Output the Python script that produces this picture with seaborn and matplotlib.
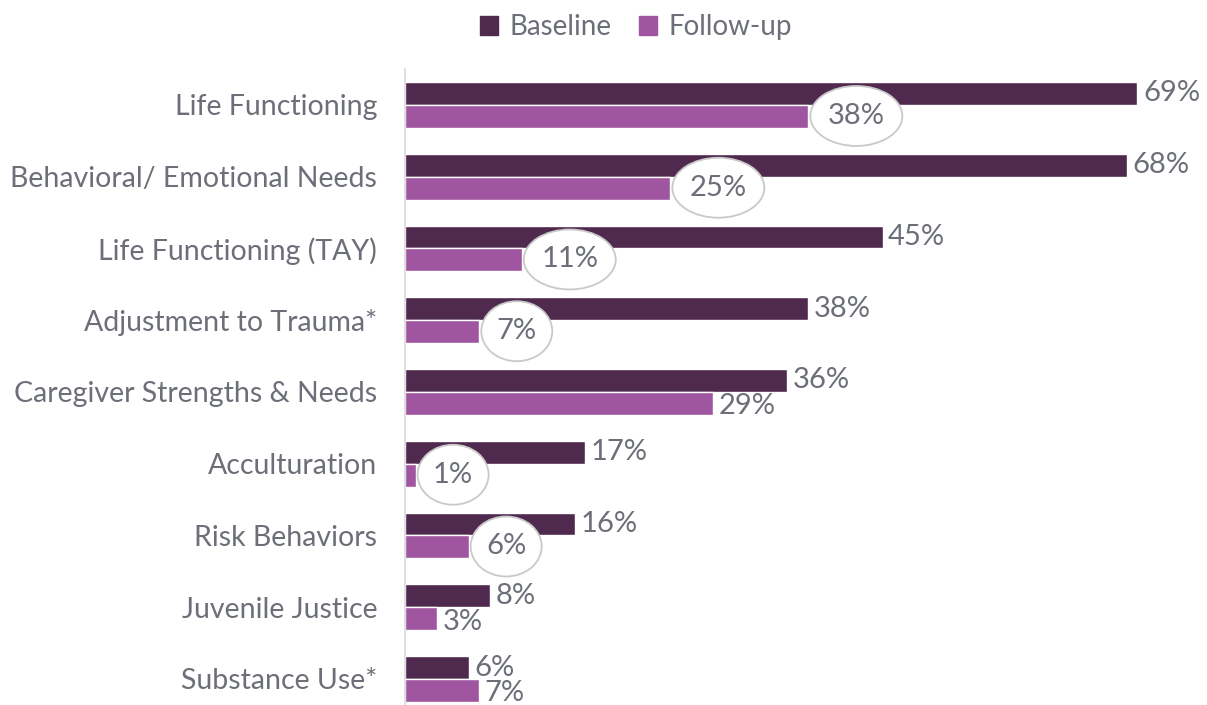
import pandas as pd
import seaborn as sns
import matplotlib.pyplot as plt
from matplotlib.patches import Patch, Ellipse

# data
categories = ["Life Functioning", "Behavioral/ Emotional Needs", "Life Functioning (TAY)",
              "Adjustment to Trauma*", "Caregiver Strengths & Needs", "Acculturation",
              "Risk Behaviors", "Juvenile Justice", "Substance Use*"]
baseline = [69, 68, 45, 38, 36, 17, 16, 8, 6]
followup = [38, 25, 11, 7, 29, 1, 6, 3, 7]
# follow-up labels drawn inside an ellipse in the original
circled = [True, True, True, True, False, True, True, False, False]

dark = "#50294F"
light = "#A055A0"
grey = "#6C6F78"

df = pd.DataFrame({
    "category": categories * 2,
    "pct": baseline + followup,
    "period": ["Baseline"] * len(categories) + ["Follow-up"] * len(categories),
})

sns.set_style("white")
plt.rcParams["font.family"] = ["Lato", "DejaVu Sans"]

fig = plt.figure(figsize=(12.07, 7.05), dpi=100)
ax = fig.add_axes([405 / 1207, -0.014, 796 / 1207, 0.916])

sns.barplot(data=df, y="category", x="pct", hue="period", orient="h",
            palette=[dark, light], width=0.64, saturation=1, ax=ax, legend=False)

ax.set_xlim(0, 75)
ax.set_ylim(8.5, -0.5)
ax.set_xlabel("")
ax.set_ylabel("")
ax.set_xticks([])
for s in ["top", "right", "bottom"]:
    ax.spines[s].set_visible(False)
ax.spines["left"].set_color("#D9D9D9")
ax.spines["left"].set_linewidth(1.2)
ax.tick_params(axis="y", length=0, pad=20, labelsize=20.5, labelcolor=grey)

# pixel -> data unit conversion for the ellipses
px_x = 75 / 796
px_y = 9 / 646

# value labels
for i in range(len(categories)):
    ax.annotate(f"{baseline[i]}%", (baseline[i], i - 0.16), xytext=(4, 0),
                textcoords="offset points", ha="left", va="center",
                fontsize=21, color=grey)
    if circled[i]:
        w = (92 if followup[i] >= 10 else 71) * px_x
        h = 60 * px_y
        cx = followup[i] + 2 * px_x + w / 2
        cy = i + 11 * px_y
        ax.add_patch(Ellipse((cx, cy), w, h, facecolor="white", edgecolor="#C9C9C9",
                             lw=1.3, zorder=5, clip_on=False))
        ax.text(cx, cy, f"{followup[i]}%", ha="center", va="center",
                fontsize=21, color=grey, zorder=6)
    else:
        ax.annotate(f"{followup[i]}%", (followup[i], i + 0.2), xytext=(4, 0),
                    textcoords="offset points", ha="left", va="center",
                    fontsize=21, color=grey)

handles = [Patch(color=dark, label="Baseline"), Patch(color=light, label="Follow-up")]
fig.legend(handles=handles, loc="upper center", bbox_to_anchor=(0.527, 1.015), ncol=2,
           frameon=False, fontsize=20, labelcolor=grey, handlelength=0.65,
           handleheight=0.65, handletextpad=0.4, columnspacing=1.0)

fig.savefig("out.png", dpi=100)
